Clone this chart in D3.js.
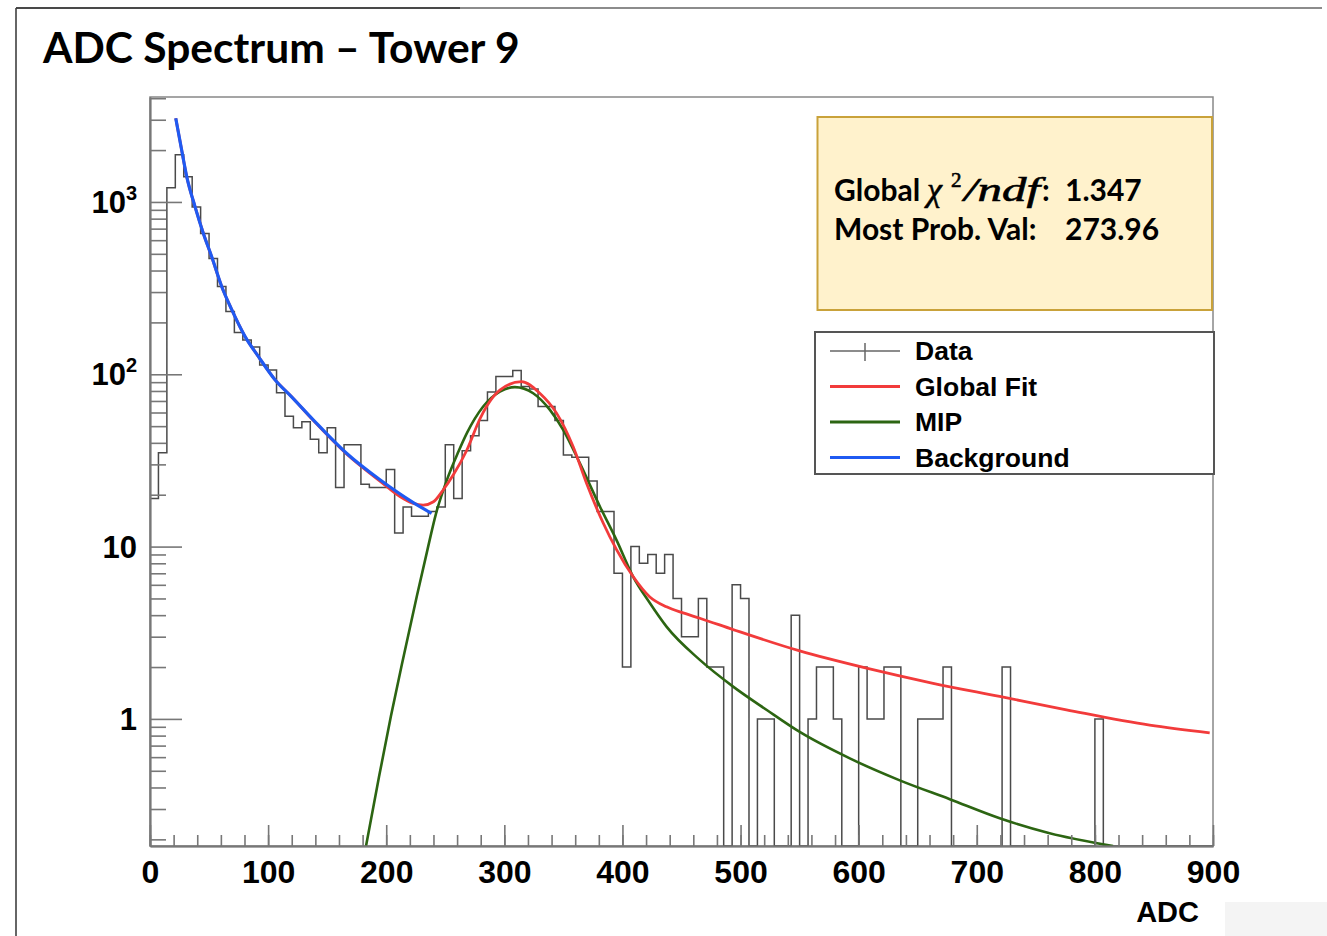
<!DOCTYPE html>
<html><head>
<meta charset="utf-8">
<title>ADC Spectrum - Tower 9</title>
<script src="https://d3js.org/d3.v7.min.js"></script>
<style>
  body { margin: 0; background: #fff; }
  svg text { font-family: "Liberation Sans", Arial, sans-serif; font-weight: bold; }
  .axis path, .axis line { stroke: #777; }
</style>
</head>
<body>
<svg id="chart" width="1327" height="936"></svg>

<script>
// ---- data ----
// histogram: 126 bins over 0..900 ADC
let binWidth = 900 / 126;
let counts = [
  19, 35, 1210, 1880, 1400, 935, 655, 470, 323, 231,
  175, 158, 144, 113, 106, 78, 57, 49, 53, 42,
  35, 49, 22, 39, 39, 23, 22, 22, 28, 12,
  17, 15, 15, 16, 17, 39, 19, 36, 44, 54,
  79, 97, 97, 105, 85, 82, 65, 65, 54, 34,
  33, 33, 24, 16, 16, 7, 2, 10, 8, 9,
  7, 9, 5, 3, 3, 5, 2, 2, 0, 6,
  5, 0, 1, 1, 0, 0, 4, 0, 1, 2,
  2, 1, 0, 0, 2, 1, 1, 2, 2, 0,
  0, 1, 1, 1, 2, 0, 0, 0, 0, 0,
  0, 2, 0, 0, 0, 0, 0, 0, 0, 0,
  0, 0, 1, 0, 0, 0, 0, 0, 0, 0,
  0, 0, 0, 0, 0, 0
];

// fitted curves, [ADC, value]
let globalFit = [
  [21.8, 3060], [26.8, 2000], [31.1, 1400], [38.1, 940], [45.1, 660], [52.2, 480],
  [60.7, 323], [69.2, 237], [80.4, 166], [91.7, 127], [105.8, 93], [119.9, 74],
  [138.2, 54], [166.4, 34.5], [194.7, 24], [211.6, 19.5], [222.9, 17.8], [231.3, 17.4],
  [240, 18.2], [248.2, 21.3], [256.7, 26], [268, 36], [279.3, 55], [284.9, 65],
  [296.2, 81], [314.6, 90.7], [330, 77.6], [344.2, 59.5], [358.3, 38], [369.6, 23.3],
  [383.7, 13.7], [395, 9.6], [409, 6.7], [423.2, 5.1], [437.3, 4.47], [451.4, 4.12],
  [465.5, 3.84], [493.7, 3.3], [550.1, 2.48], [606.6, 1.97], [663, 1.61], [719.4, 1.35],
  [775.9, 1.13], [846.4, 0.92], [897.2, 0.83]
];
let mipFit = [
  [182.9, 0.183], [193.9, 0.461], [204.0, 1.04], [215.0, 2.35], [226.0, 5.18], [234.5, 9.32],
  [242.1, 15.5], [251.4, 24.4], [260.7, 35.0], [268.4, 45.7], [282.1, 65], [296.2, 79.4],
  [308.9, 84.2], [324.4, 77.6], [338.6, 62.1], [349.8, 47.6], [363.9, 30.5], [380.9, 17.1],
  [395, 10.9], [409, 6.7], [423.2, 4.7], [437.3, 3.43], [465.5, 2.2], [493.7, 1.54],
  [521.9, 1.13], [550.1, 0.84], [592.5, 0.59], [634.8, 0.44], [677.1, 0.342], [719.4, 0.265],
  [761.7, 0.217], [815.4, 0.183]
];
let backgroundFit = [
  [21.8, 3063], [26.8, 2000], [31.1, 1403], [38.1, 940], [45.1, 659], [52.2, 482],
  [60.7, 323], [69.2, 237], [80.4, 166], [91.7, 127], [105.8, 93], [119.9, 74],
  [138.2, 54.4], [166.4, 34.8], [194.7, 24.4], [222.9, 18.0], [238.4, 15.6]
];

let xMajor = d3.range(0, 901, 100);
let xMinor = d3.range(0, 901, 20);
let yLabelValues = [1, 10, 100, 1000];
let yLabelBase = ["1", "10", "10", "10"];
let yLabelExp = ["", "", "2", "3"];

let legendNames = ["Data", "Global Fit", "MIP", "Background"];
let legendColors = ["#666", "#f23b3b", "#2c6512", "#1f5af2"];

let title = "ADC Spectrum \u2013 Tower 9";
let statsLabels = ["Global", "Most Prob. Val:"];
let statsValues = ["1.347", "273.96"];

// ---- layout ----
let svg = d3.select("#chart");
let plotLeft = 150, plotRight = 1213, plotTop = 97, plotBottom = 846;

let x = d3.scaleLinear().domain([0, 900]).range([plotLeft, plotRight]);
let y = d3.scaleLog().domain([0.183, 4065]).range([plotBottom, plotTop]);

// outer border of the slide
svg.append("rect").attr("x", 1225).attr("y", 902).attr("width", 102).attr("height", 34).style("fill", "#f4f4f4");
svg.append("line").attr("x1", 16).attr("x2", 16).attr("y1", 8).attr("y2", 936)
  .style("stroke", "#333").style("stroke-width", 1.5);
svg.append("line").attr("x1", 16).attr("x2", 1322).attr("y1", 8).attr("y2", 8)
  .style("stroke", "#666").style("stroke-width", 1.5);
svg.append("line").attr("x1", 16).attr("x2", 460).attr("y1", 8).attr("y2", 8)
  .style("stroke", "#333").style("stroke-width", 1.5);

svg.append("text").attr("x", 43).attr("y", 63).text(title)
  .style("font-family", "Lato, 'Open Sans', sans-serif").style("font-size", "42.5px");

// frame
svg.append("rect").attr("x", plotLeft).attr("y", plotTop)
  .attr("width", plotRight - plotLeft).attr("height", plotBottom - plotTop)
  .style("fill", "none").style("stroke", "#888").style("stroke-width", 1.5);

svg.append("clipPath").attr("id", "plotclip").append("rect")
  .attr("x", plotLeft).attr("y", plotTop)
  .attr("width", plotRight - plotLeft).attr("height", plotBottom - plotTop);

// histogram as a step line
let steps = [[plotLeft, plotBottom]];
counts.forEach(function(c, i) {
  let yy = c > 0 ? y(c) : plotBottom;
  steps.push([x(i * binWidth), yy]);
  steps.push([x((i + 1) * binWidth), yy]);
});
steps.push([x(counts.length * binWidth), plotBottom]);

let plot = svg.append("g").attr("clip-path", "url(#plotclip)");
plot.append("path").attr("d", d3.line()(steps))
  .style("fill", "none").style("stroke", "#4a4a4a").style("stroke-width", 1.5);

let curve = d3.line().x(d => x(d[0])).y(d => y(d[1])).curve(d3.curveMonotoneX);
plot.append("path").attr("d", curve(mipFit))
  .style("fill", "none").style("stroke", legendColors[2]).style("stroke-width", 2.6);
plot.append("path").attr("d", curve(globalFit))
  .style("fill", "none").style("stroke", legendColors[1]).style("stroke-width", 2.8);
plot.append("path").attr("d", curve(backgroundFit))
  .style("fill", "none").style("stroke", legendColors[3]).style("stroke-width", 3.2);

// x axis
let xAxisMinor = d3.axisBottom(x).tickValues(xMinor).tickSizeInner(-11).tickSizeOuter(0).tickFormat("");
let xAxis = d3.axisBottom(x).tickValues(xMajor).tickSizeInner(-21).tickSizeOuter(0).tickPadding(14);
svg.append("g").attr("class", "axis").attr("transform", "translate(0," + plotBottom + ")").call(xAxisMinor)
  .selectAll("line, path").style("stroke-width", 1.6);
let gx = svg.append("g").attr("class", "axis").attr("transform", "translate(0," + plotBottom + ")").call(xAxis);
gx.selectAll("line").style("stroke-width", 1.6);
gx.select("path").style("stroke-width", 2.2);
gx.selectAll("text").style("font-size", "32px").style("fill", "#000");

svg.append("text").attr("x", 1199).attr("y", 922).attr("text-anchor", "end")
  .style("font-size", "29px").text("ADC");

// y axis
let yMinor = y.ticks().filter(v => yLabelValues.indexOf(v) < 0);
let yAxisMinor = d3.axisLeft(y).tickValues(yMinor).tickSizeInner(-16).tickSizeOuter(0).tickFormat("");
let yAxis = d3.axisLeft(y).tickValues(yLabelValues).tickSizeInner(-32).tickSizeOuter(0).tickFormat("");
let gyMinor = svg.append("g").attr("class", "axis").attr("transform", "translate(" + plotLeft + ",0)").call(yAxisMinor);
gyMinor.selectAll("line").style("stroke-width", 1.6);
let gy = svg.append("g").attr("class", "axis").attr("transform", "translate(" + plotLeft + ",0)").call(yAxis);
gy.selectAll("line").style("stroke-width", 1.6);
gy.select("path").style("stroke-width", 2.2);

yLabelValues.forEach(function(v, i) {
  let t = svg.append("text").attr("x", 137).attr("y", y(v) + 11).attr("text-anchor", "end")
    .style("font-size", "31px");
  t.append("tspan").text(yLabelBase[i]);
  if (yLabelExp[i]) {
    t.append("tspan").attr("dy", -13).style("font-size", "20px").text(yLabelExp[i]);
  }
});

// stats box
svg.append("rect").attr("x", 817.5).attr("y", 117).attr("width", 394.5).attr("height", 193)
  .style("fill", "#fff2cc").style("stroke", "#c9a23a").style("stroke-width", 2);
let statFont = "Lato, 'Open Sans', sans-serif";
let mathFont = "'Liberation Serif', 'DejaVu Serif', serif";
function statText(tx, ty, str) {
  return svg.append("text").attr("x", tx).attr("y", ty)
    .style("font-family", statFont).style("font-size", "30px").text(str);
}
function mathText(tx, ty, size, str) {
  return svg.append("text").attr("x", tx).attr("y", ty)
    .style("font-family", mathFont).style("font-weight", "normal").style("font-style", "italic")
    .style("font-size", size + "px").style("stroke", "#000").style("stroke-width", 0.6).text(str);
}
statText(834, 201, statsLabels[0]);
mathText(927, 201, 34, "\u03c7");
mathText(951, 187, 21, "2").style("font-style", "normal");
mathText(964, 201, 33, "/ndf").attr("textLength", 76).attr("lengthAdjust", "spacingAndGlyphs");
statText(1042, 201, ":");
statText(1065, 201, statsValues[0]);
statText(834, 240, statsLabels[1]);
statText(1065, 240, statsValues[1]);

// legend
svg.append("rect").attr("x", 815).attr("y", 332).attr("width", 399).attr("height", 142)
  .style("fill", "#fff").style("stroke", "#555").style("stroke-width", 2);
legendNames.forEach(function(name, i) {
  let ly = 351 + i * 35.5;
  svg.append("line").attr("x1", 830).attr("x2", 900).attr("y1", ly).attr("y2", ly)
    .style("stroke", legendColors[i]).style("stroke-width", i == 0 ? 1.5 : 3);
  if (i == 0) {
    svg.append("line").attr("x1", 865).attr("x2", 865).attr("y1", ly - 8).attr("y2", ly + 10)
      .style("stroke", legendColors[i]).style("stroke-width", 1.5);
  }
  svg.append("text").attr("x", 915).attr("y", ly + 9).style("font-size", "26.5px").text(name);
});
</script>
</body>
</html>
